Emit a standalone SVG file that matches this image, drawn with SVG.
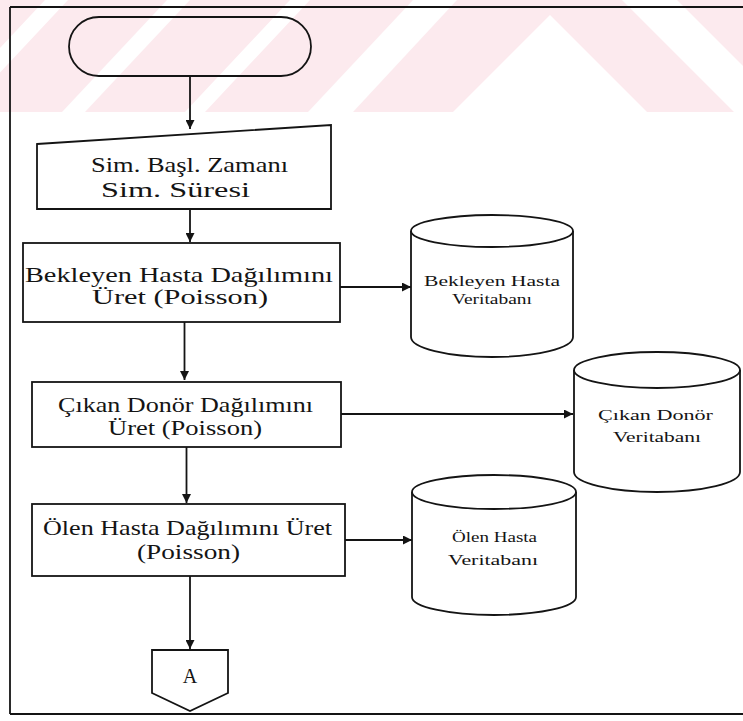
<svg xmlns="http://www.w3.org/2000/svg" width="743" height="721" viewBox="0 0 743 721">
  <defs>
    <style>
      .ln { fill: none; stroke: #141414; stroke-width: 1.8; }
      .bx { fill: none; stroke: #141414; stroke-width: 1.8; }
      .t { font-family: "Liberation Serif", "Times New Roman", serif; fill: #141414; }
      .big { font-size: 21px; }
      .sm { font-size: 15.5px; }
      .wm { fill: #fceaee; }
      .wg { fill: #ffffff; }
    </style>
    <marker id="ah" viewBox="0 0 10 10" refX="10" refY="5" markerWidth="10" markerHeight="9" markerUnits="userSpaceOnUse" orient="auto">
      <path d="M0,0 L10,5 L0,10 Z" fill="#141414"/>
    </marker>
  </defs>

  <rect width="743" height="721" fill="#ffffff"/>

  <!-- background band with diagonal stripes -->
  <g id="band">
    <rect class="wm" x="0" y="0" width="743" height="112"/>
    <polygon class="wg" points="45,0 68,0 -37,112 -60,112"/>
    <polygon class="wg" points="167,0 190,0 85,112 62,112"/>
    <polygon class="wg" points="290,0 310,0 205,112 185,112"/>
    <polygon class="wg" points="413,0 457,0 353,112 308,112"/>
    <polygon class="wg" points="550,15 647,112 453,112"/>
    <polygon class="wg" points="622,0 677,0 789,112 734,112"/>
  </g>

  <!-- frame -->
  <g id="frame">
    <path class="ln" d="M10,7 H743 M10,7 V714 M10,714 H743" stroke-width="2.2"/>
  </g>

  <g id="start">
    <rect class="bx" x="69" y="17" width="242" height="59" rx="30" ry="29.5"/>
  </g>

  <g id="input">
    <path class="bx" d="M37,144 L331,125 V209 H37 Z"/>
    <text class="t big" x="91" y="172" textLength="197" lengthAdjust="spacingAndGlyphs">Sim. Başl. Zamanı</text>
    <text class="t big" x="101" y="197" textLength="149" lengthAdjust="spacingAndGlyphs">Sim. Süresi</text>
  </g>

  <g id="waiting">
    <rect class="bx" x="23" y="243" width="317" height="79"/>
    <text class="t big" x="25" y="282" textLength="308" lengthAdjust="spacingAndGlyphs">Bekleyen Hasta Dağılımını</text>
    <text class="t big" x="92" y="304" textLength="176" lengthAdjust="spacingAndGlyphs">Üret (Poisson)</text>
  </g>

  <g id="waitingDb">
    <path class="bx" d="M411,231 V337 A81,20 0 0 0 573,337 V231"/>
    <ellipse class="bx" cx="492" cy="231" rx="81" ry="16"/>
    <text class="t sm" x="424" y="286" textLength="136" lengthAdjust="spacingAndGlyphs">Bekleyen Hasta</text>
    <text class="t sm" x="452" y="304" textLength="80" lengthAdjust="spacingAndGlyphs">Veritabanı</text>
  </g>

  <g id="donor">
    <rect class="bx" x="32" y="382" width="309" height="65"/>
    <text class="t big" x="58" y="412" textLength="255" lengthAdjust="spacingAndGlyphs">Çıkan Donör Dağılımını</text>
    <text class="t big" x="108" y="435" textLength="154" lengthAdjust="spacingAndGlyphs">Üret (Poisson)</text>
  </g>

  <g id="donorDb">
    <path class="bx" d="M574,370 V472 A83,20 0 0 0 740,472 V370"/>
    <ellipse class="bx" cx="657" cy="370" rx="83" ry="18"/>
    <text class="t sm" x="598" y="420" textLength="115" lengthAdjust="spacingAndGlyphs">Çıkan Donör</text>
    <text class="t sm" x="613" y="442" textLength="88" lengthAdjust="spacingAndGlyphs">Veritabanı</text>
  </g>

  <g id="deceased">
    <rect class="bx" x="32" y="504" width="313" height="72"/>
    <text class="t big" x="43" y="535" textLength="289" lengthAdjust="spacingAndGlyphs">Ölen Hasta Dağılımını Üret</text>
    <text class="t big" x="137" y="559" textLength="103" lengthAdjust="spacingAndGlyphs">(Poisson)</text>
  </g>

  <g id="deceasedDb">
    <path class="bx" d="M412,492 V597 A82,18 0 0 0 576,597 V492"/>
    <ellipse class="bx" cx="494" cy="492" rx="82" ry="17"/>
    <text class="t sm" x="452" y="542" textLength="85" lengthAdjust="spacingAndGlyphs">Ölen Hasta</text>
    <text class="t sm" x="448" y="565" textLength="90" lengthAdjust="spacingAndGlyphs">Veritabanı</text>
  </g>

  <g id="connectorA">
    <path class="bx" d="M152,650 H228 V693 L190,711 L152,693 Z"/>
    <text class="t" x="190" y="683" font-size="20" text-anchor="middle">A</text>
  </g>

  <g id="connectors" class="ln" marker-end="url(#ah)">
    <path d="M190,76 V129"/>
    <path d="M190,209 V242"/>
    <path d="M184.5,322 V380"/>
    <path d="M186.5,447 V503"/>
    <path d="M190,576 V649"/>
    <path d="M340,287 H411"/>
    <path d="M341,414 H573"/>
    <path d="M345,540 H412"/>
  </g>
</svg>
